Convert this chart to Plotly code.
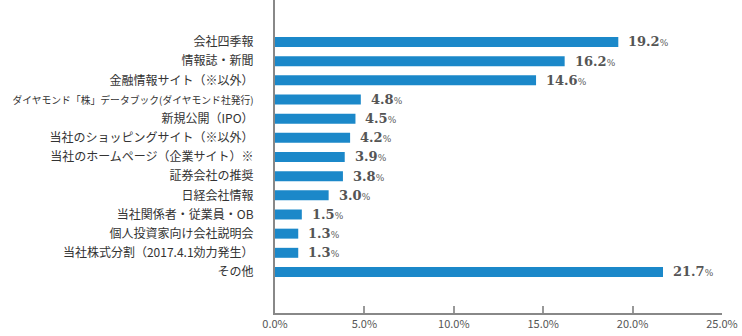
import plotly.graph_objects as go

# Survey categories (top to bottom) and share of respondents in percent
categories = [
    "会社四季報",
    "情報誌・新聞",
    "金融情報サイト（※以外）",
    "ダイヤモンド「株」データブック(ダイヤモンド社発行)",
    "新規公開（IPO）",
    "当社のショッピングサイト（※以外）",
    "当社のホームページ（企業サイト）※",
    "証券会社の推奨",
    "日経会社情報",
    "当社関係者・従業員・OB",
    "個人投資家向け会社説明会",
    "当社株式分割（2017.4.1効力発生）",
    "その他",
]
values = [19.2, 16.2, 14.6, 4.8, 4.5, 4.2, 3.9, 3.8, 3.0, 1.5, 1.3, 1.3, 21.7]
tick_values = [0, 5, 10, 15, 20, 25]
tick_labels = ["0.0%", "5.0%", "10.0%", "15.0%", "20.0%", "25.0%"]

BAR_COLOR = "#1b88c9"
LABEL_COLOR = "#555555"

# The longest category name is set slightly smaller so it fits the margin
category_text = [
    f"<span style='font-size:9.8px'>{c}</span>" if len(c) > 20 else c
    for c in categories
]

fig = go.Figure(
    go.Bar(
        x=values,
        y=categories,
        orientation="h",
        marker=dict(color=BAR_COLOR, line=dict(width=0)),
        width=0.52,
        hoverinfo="skip",
    )
)

# Value labels to the right of each bar
for cat, val in zip(categories, values):
    fig.add_annotation(
        x=val,
        y=cat,
        xref="x",
        yref="y",
        text=f"<b>{val:.1f}</b><span style='font-size:9px'>%</span>",
        showarrow=False,
        xanchor="left",
        xshift=8,
        font=dict(family="DejaVu Serif", size=13, color=LABEL_COLOR),
    )

fig.update_layout(
    width=742,
    height=336,
    margin=dict(l=275, r=20, t=0, b=23),
    paper_bgcolor="white",
    plot_bgcolor="white",
    showlegend=False,
    xaxis=dict(
        range=[0, 25],
        tickvals=tick_values,
        ticktext=tick_labels,
        ticks="inside",
        ticklen=7,
        tickwidth=1.5,
        tickcolor="#999999",
        showgrid=False,
        zeroline=False,
        showline=True,
        linecolor="#888888",
        linewidth=1.5,
        automargin=False,
        tickfont=dict(family="Noto Sans CJK JP", size=11, color="#555555"),
        fixedrange=True,
    ),
    yaxis=dict(
        type="category",
        categoryorder="array",
        categoryarray=categories,
        tickvals=categories,
        ticktext=category_text,
        range=[14.14, -2.19],
        showgrid=False,
        zeroline=False,
        showline=True,
        linecolor="#888888",
        linewidth=2,
        ticks="",
        ticklabelstandoff=17,
        automargin=False,
        tickfont=dict(family="Noto Sans CJK JP", size=12, color="#333333"),
        fixedrange=True,
    ),
)

fig.write_html("out.html")
